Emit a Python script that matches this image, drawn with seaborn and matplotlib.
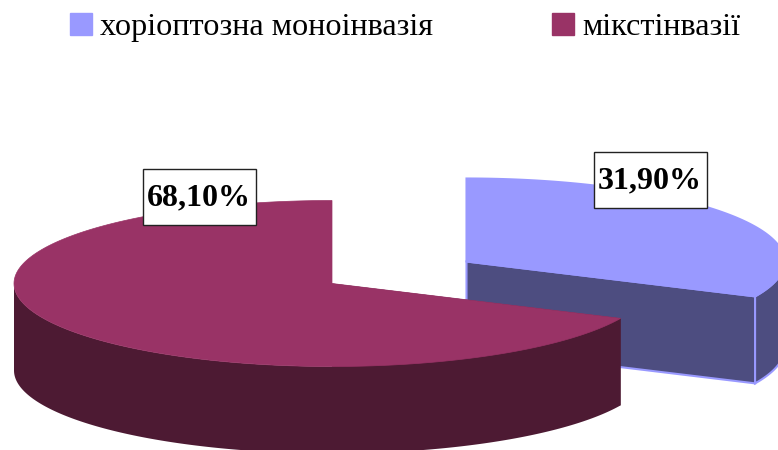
import numpy as np
import matplotlib
matplotlib.use('Agg')
import matplotlib.pyplot as plt
from matplotlib.patches import Patch, Rectangle
import seaborn as sns

categories = ['хоріоптозна моноінвазія', 'мікстінвазії']
values = [31.90, 68.10]
value_labels = ['31,90%', '68,10%']

top_colors = ['#9999FF', '#993366']
side_colors = ['#4D4D80', '#4D1A33']

# pie geometry in pixels
centers = [(466.5, 261.5), (332, 283.5)]
rx, ry = 318, 83
depth = 87
label_pos = [(649.5, 181), (198.5, 198)]
box_w, box_h = 113.5, 55.5

sns.set_theme(style='white')
plt.rcParams['font.family'] = ['Liberation Serif', 'DejaVu Serif']


def rim(c, a0, a1, n=200):
    # angles are clockwise from the top of the pie, as office charts do it
    t = np.radians(np.linspace(a0, a1, n))
    return np.column_stack([c[0] + rx * np.sin(t), c[1] - ry * np.cos(t)])


def wall(pts):
    low = pts[::-1] + [0, depth]
    return np.vstack([pts, low])


fig, ax = plt.subplots(figsize=(7.78, 4.5), dpi=100)
fig.subplots_adjust(0, 0, 1, 1)
ax.set_xlim(0, 778)
ax.set_ylim(450, 0)
ax.axis('off')

angles = np.cumsum([0] + values) * 3.6

# first slice is behind the second one
for i in range(len(values)):
    c = np.array(centers[i], dtype=float)
    a0, a1 = angles[i], angles[i + 1]
    arc = rim(c, a0, a1)
    lw = 1.5 if i == 0 else 0
    top_lw = 1.5 if i == 0 else 0.5
    edge = top_colors[i]

    # cut face on the right end of the slice
    cut = np.vstack([c, arc[-1]]) if i == 0 else np.vstack([c, arc[0]])
    ax.fill(*wall(cut).T, fc=side_colors[i], ec=edge, lw=lw, zorder=2 + i * 3)

    # outer wall, only the front part of the rim is seen
    lo, hi = max(a0, 90), min(a1, 270)
    ax.fill(*wall(rim(c, lo, hi)).T, fc=side_colors[i], ec=edge, lw=lw, zorder=3 + i * 3)

    # top face
    ax.fill(*np.vstack([c, arc]).T, fc=top_colors[i], ec=edge, lw=top_lw, zorder=4 + i * 3)

for (x, y), s in zip(label_pos, value_labels):
    # box sits a bit to the right and above the text centre
    ax.add_patch(Rectangle((x + 1 - box_w / 2, y - 1 - box_h / 2), box_w, box_h, fc='white', ec='#222222', lw=1, zorder=10))
    ax.text(x, y, s, ha='center', va='center', fontsize=23, fontweight='bold', color='black', zorder=11)

handles = [Patch(fc=top_colors[i], ec=top_colors[i], label=categories[i]) for i in range(2)]
ax.legend(handles=handles, ncol=2, loc='upper left', bbox_to_anchor=(70 / 778, 1 - 13 / 450), frameon=False,
          fontsize=23.2, handlelength=0.68, handleheight=0.68, handletextpad=0.25, columnspacing=3.7,
          borderpad=0, borderaxespad=0, labelcolor='black')

fig.savefig('out.png', dpi=100)
